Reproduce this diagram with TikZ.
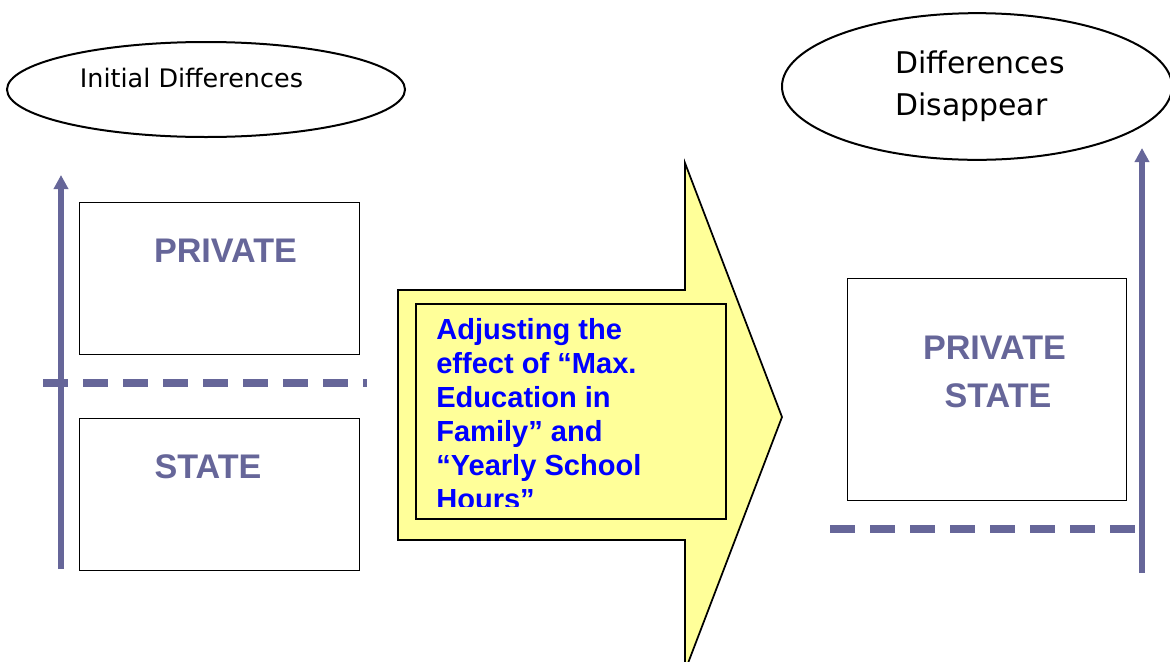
\documentclass[tikz,border=0pt]{standalone}
\usepackage{fontspec}
\setmainfont{Liberation Sans}
\newfontfamily\ellipsefont{DejaVu Sans}
\usetikzlibrary{shapes.geometric,arrows.meta}
\definecolor{axis}{HTML}{666699}
\definecolor{note}{HTML}{FFFF99}
\definecolor{notetext}{HTML}{0000FF}
\tikzset{
  bubble/.style={ellipse, draw=black, line width=1.5pt, fill=white, inner sep=0pt},
  panel/.style={draw=black, line width=1.1pt, fill=white},
  group/.style={text=axis, font=\fontsize{25.6}{30}\selectfont\bfseries, inner sep=0pt},
  axisline/.style={draw=axis, line width=4.5pt, -{Triangle[width=10.5pt,length=10.5pt]}},
  level/.style={draw=axis, line width=6pt, dash pattern=on 18.75pt off 11.25pt},
}
\begin{document}
\begin{tikzpicture}[x=0.75pt, y=-0.75pt]
\useasboundingbox (0,0) rectangle (1170,661);
\begin{scope}
\clip (0,0) rectangle (1170,661);

% ---------- left side: initial situation ----------
\node[bubble, minimum width=298.5pt, minimum height=71.25pt] (startbubble) at (206,89.5) {};
\node[anchor=base, inner sep=0pt, font=\ellipsefont\fontsize{19.1}{23}\selectfont] (starttext) at (191.5,87) {Initial Differences};

\node[panel, minimum width=210pt, minimum height=114pt, anchor=north west] (privbox) at (79,202) {};
\node[panel, minimum width=210pt, minimum height=114pt, anchor=north west] (statebox) at (79,418) {};
\node[group, anchor=base] (privlabel) at (225.5,262) {PRIVATE};
\node[group, anchor=base] (statelabel) at (208,478) {STATE};

\coordinate (lbottom) at (61,569);
\coordinate (ltop) at (61,175);
\draw[axisline] (lbottom) -- (ltop);
\coordinate (lgapstart) at (43,383);
\coordinate (lgapend) at (367,383);
\draw[level] (lgapstart) -- (lgapend);

% ---------- middle: adjustment arrow ----------
\draw[fill=note, draw=black, line width=1.3pt, line join=miter]
  (398,290) -- (685,290) -- (685,163) -- (782,417) -- (685,671) -- (685,540) -- (398,540) -- cycle;
\node[draw=black, fill=note, line width=1.3pt, minimum width=232.5pt, minimum height=161.25pt, anchor=north west, inner sep=0pt] (notebox) at (415,303) {};
\begin{scope}
\clip (416,304) rectangle (724,506);
\node[anchor=north west, inner sep=0pt, align=left, text=notetext,
      font=\fontsize{21.8}{25.5}\selectfont\bfseries] (notetext) at (436,318)
  {Adjusting the\\effect of “Max.\\Education in\\Family” and\\“Yearly School\\Hours”};
\end{scope}

% ---------- right side: after adjustment ----------
\node[bubble, minimum width=292.5pt, minimum height=110pt] (endbubble) at (977,86.5) {};
\node[anchor=north west, inner sep=0pt, align=left, font=\ellipsefont\fontsize{22.4}{31}\selectfont] (endtext) at (895,51) {Differences\\Disappear};

\node[panel, minimum width=209.25pt, minimum height=166.5pt, anchor=north west] (bothbox) at (847,278) {};
\node[group, anchor=base] (bothpriv) at (994.5,359) {PRIVATE};
\node[group, anchor=base] (bothstate) at (998,407) {STATE};

\coordinate (rbottom) at (1142,573);
\coordinate (rtop) at (1142,148);
\draw[axisline] (rbottom) -- (rtop);
\coordinate (rgapstart) at (830,529);
\coordinate (rgapend) at (1137,529);
\draw[level] (rgapstart) -- (rgapend);
\end{scope}
\end{tikzpicture}
\end{document}
